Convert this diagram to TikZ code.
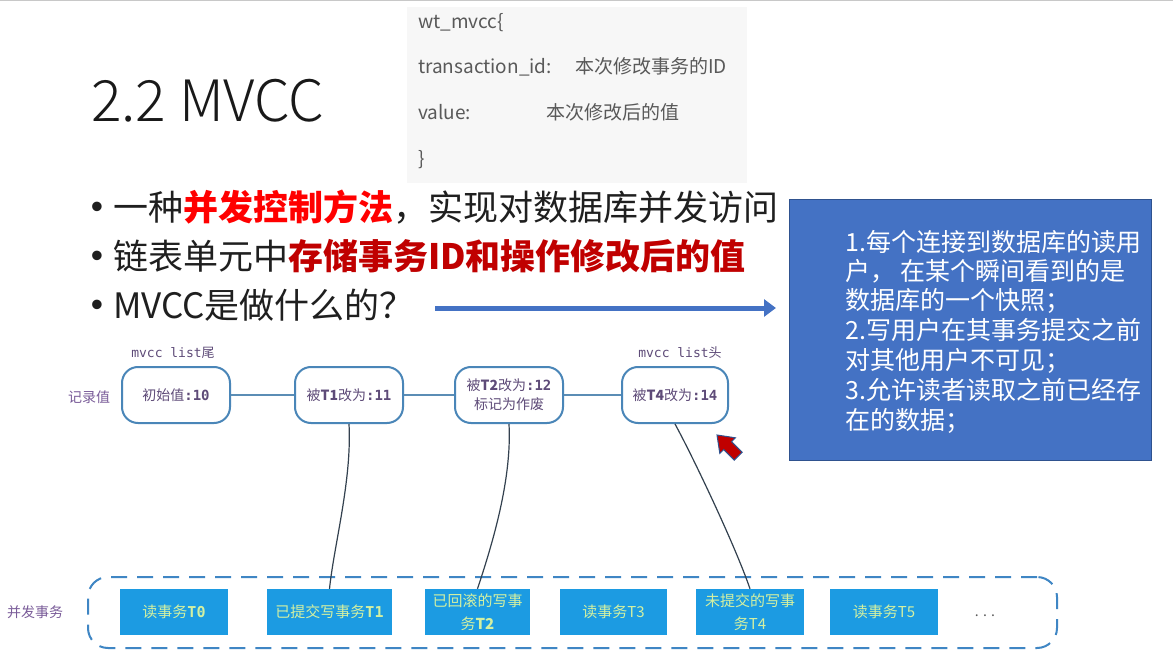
\documentclass[tikz,border=0pt]{standalone}
\usepackage{fontspec}
\setmainfont{Noto Sans CJK SC}
\newfontfamily\mono{DejaVu Sans Mono}
\newfontfamily\arialf{Liberation Sans}
\newfontfamily\lightf{Noto Sans CJK SC Light}
\usetikzlibrary{arrows.meta}
\newcommand\myfs[2]{\fontsize{#1}{#2}\selectfont}
\definecolor{graybg}{HTML}{F7F7F7}
\definecolor{graytxt}{HTML}{595959}
\definecolor{redA}{HTML}{FF0000}
\definecolor{redB}{HTML}{C00000}
\definecolor{arrblue}{HTML}{4472C4}
\definecolor{boxblue}{HTML}{4472C4}
\definecolor{boxedge}{HTML}{2F528F}
\definecolor{lblpurple}{HTML}{5E4B78}
\definecolor{lightpurple}{HTML}{7A5C99}
\definecolor{topblue}{HTML}{4A86B8}
\definecolor{linkblue}{HTML}{5B8DB5}
\definecolor{curvegray}{HTML}{33414F}
\definecolor{txblue}{HTML}{1C9BE2}
\definecolor{txtext}{HTML}{D3F0A2}
\definecolor{dashblue}{HTML}{3F86C4}
\definecolor{topline}{HTML}{C8C8C8}
\begin{document}
\begin{tikzpicture}[x=1pt,y=-1pt,
  topbox/.style={draw=topblue, line width=2pt, rounded corners=16pt, fill=white,
    minimum width=108pt, minimum height=56pt, inner sep=2pt, align=center,
    text=lblpurple, font=\myfs{14}{19}},
  txbox/.style={fill=txblue, minimum height=46pt, inner sep=1pt, align=center,
    text=txtext, font=\myfs{15}{23}},
  hlink/.style={draw=linkblue, line width=2pt},
  vlink/.style={draw=curvegray, line width=1.2pt},
  lbl/.style={text=lightpurple, font=\myfs{14}{16}, inner sep=0pt},
  gtxt/.style={anchor=base west, text=graytxt, font=\myfs{19}{22}, inner sep=0pt},
  btxt/.style={anchor=base west, text=black!88, font=\myfs{35}{42}, inner sep=0pt},
  bdot/.style={anchor=base, text=black!88, font=\arialf\myfs{35}{42}, inner sep=0pt},
  wtxt/.style={anchor=base west, text=white, font=\myfs{25}{30}, inner sep=0pt}
  ]
\useasboundingbox (0,0) rectangle (1173,666);
\fill[white] (0,0) rectangle (1173,666);
\draw[topline, line width=1.5pt] (0,0.75) -- (1173,0.75);

% title
\node[anchor=base west, font=\lightf\myfs{57}{60}, text=black!90, inner sep=0pt] (title) at (91,122) {2.2 MVCC};

% grey struct box
\fill[graybg] (407,7) rectangle (747,183);
\node[gtxt] (g1) at (418,29) {wt\_mvcc\{};
\node[gtxt] (g2) at (418,74) {transaction\_id:};
\node[gtxt] (g2b) at (575,74) {本次修改事务的ID};
\node[gtxt] (g3) at (418,120) {value:};
\node[gtxt] (g3b) at (546,120) {本次修改后的值};
\node[gtxt] (g4) at (418,166) {\}};

% bullets
\node[bdot] (d1) at (97,218) {•};
\node[bdot] (d2) at (97,267) {•};
\node[bdot] (d3) at (97,316) {•};
\node[btxt] (l1) at (113,220) {一种{\bfseries\color{redA}并发控制方法}，实现对数据库并发访问};
\node[btxt] (l2) at (113,269) {链表单元中{\bfseries\color{redB}存储事务ID和操作修改后的值}};
\node[btxt] (l3) at (113,318) {MVCC是做什么的？};

% arrow to blue box
\coordinate (arrS) at (435,308);
\coordinate (arrE) at (776,308);
\draw[arrblue, line width=5pt, -{Triangle[length=12pt,width=17pt]}] (arrS) -- (arrE);

% blue box
\node[fill=boxblue, draw=boxedge, line width=1pt, minimum width=362pt, minimum height=261pt,
  anchor=north west, inner sep=0pt] (bluebox) at (789,199) {};
\node[wtxt] (w1) at (845,251) {1.每个连接到数据库的读用};
\node[wtxt] (w2) at (845,280) {户，\hspace{5pt}在某个瞬间看到的是};
\node[wtxt] (w3) at (845,309) {数据库的一个快照；};
\node[wtxt] (w4) at (845,339) {2.写用户在其事务提交之前};
\node[wtxt] (w5) at (845,369) {对其他用户不可见；};
\node[wtxt] (w6) at (845,399) {3.允许读者读取之前已经存};
\node[wtxt] (w7) at (845,429) {在的数据；};

% record list
\node[lbl] (rec) at (89,397) {记录值};
\node[text=lblpurple, font=\myfs{13}{15}, inner sep=0pt] (tail) at (173,353) {{\mono mvcc list}尾};
\node[text=lblpurple, font=\myfs{13}{15}, inner sep=0pt] (head) at (680,353) {{\mono mvcc list}头};
\node[topbox] (v1) at (176,395) {初始值{\mono\bfseries :10}};
\node[topbox] (v2) at (349,395) {被{\bfseries T1}改为{\mono\bfseries :11}};
\node[topbox] (v3) at (509,395) {被{\bfseries T2}改为{\mono\bfseries :12}\\标记为作废};
\node[topbox, minimum width=106pt] (v4) at (675,395) {被{\bfseries T4}改为{\mono\bfseries :14}};
\draw[hlink] (v1.east) -- (v2.west);
\draw[hlink] (v2.east) -- (v3.west);
\draw[hlink] (v3.east) -- (v4.west);

% red block arrow
\fill[fill=redB, draw=boxedge, line width=1pt]
  (717,435) -- (735.4,437.8) -- (731.5,441.7) -- (742.1,452.3) -- (734.3,460.1)
  -- (723.7,449.5) -- (719.8,453.4) -- cycle;

% concurrent transactions
\node[lbl] (conc) at (35,612) {并发事务};
\node[draw=dashblue, line width=2pt, dash pattern=on 16pt off 10pt, rounded corners=20pt,
  minimum width=969pt, minimum height=71pt, inner sep=0pt] (grp) at (572.5,612.5) {};
\node[txbox, minimum width=108pt] (t0) at (174,612) {读事务{\mono\bfseries T0}};
\node[txbox, minimum width=125pt] (t1) at (329.5,612) {已提交写事务{\mono\bfseries T1}};
\node[txbox, minimum width=105pt] (t2) at (477.5,612) {已回滚的写事\\务{\bfseries T2}};
\node[txbox, minimum width=107pt] (t3) at (613.5,612) {读事务T3};
\node[txbox, minimum width=108pt] (t4) at (750,612) {未提交的写事\\务T4};
\node[txbox, minimum width=108pt] (t5) at (884,612) {读事务T5};
\node[text=graytxt, font=\myfs{14}{16}, inner sep=0pt] (dots) at (985,616) {. . .};

% links from versions to transactions
\draw[vlink] (v2.south) .. controls (352,480) and (334,545) .. (t1.north);
\draw[vlink] (v3.south) .. controls (512,480) and (492,545) .. (t2.north);
\draw[vlink] (v4.south) .. controls (692,455) and (735,545) .. (t4.north);
\end{tikzpicture}
\end{document}
